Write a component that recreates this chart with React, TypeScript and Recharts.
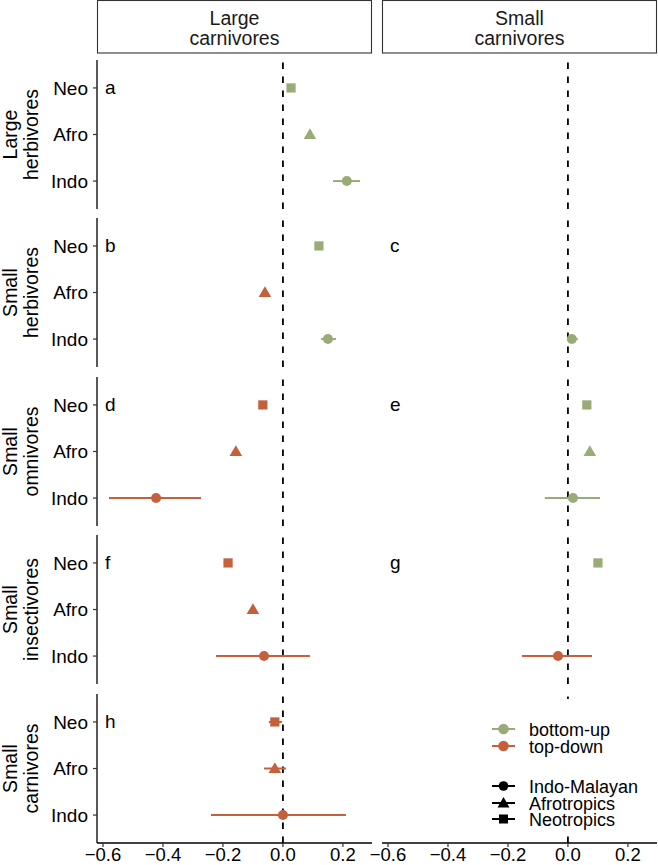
import React from 'react';
import { ScatterChart, Scatter, XAxis, YAxis, ErrorBar, ReferenceLine } from 'recharts';

type Est = { region: string; effect: string; est: number; lo: number; hi: number };

// ---------- data ----------
const regions = ['Indo', 'Afro', 'Neo'];
const effects = ['bottom-up', 'top-down'];
const regionLegend = ['Indo-Malayan', 'Afrotropics', 'Neotropics'];
const preyGuilds = ['Large herbivores', 'Small herbivores', 'Small omnivores', 'Small insectivores', 'Small carnivores'];
const predatorGuilds = ['Large carnivores', 'Small carnivores'];
const xTicks = [-0.6, -0.4, -0.2, 0, 0.2];

const panelA: Est[] = [
  { region: 'Neo', effect: 'bottom-up', est: 0.027, lo: 0.027, hi: 0.027 },
  { region: 'Afro', effect: 'bottom-up', est: 0.09, lo: 0.09, hi: 0.09 },
  { region: 'Indo', effect: 'bottom-up', est: 0.213, lo: 0.167, hi: 0.257 },
];
const panelB: Est[] = [
  { region: 'Neo', effect: 'bottom-up', est: 0.12, lo: 0.12, hi: 0.12 },
  { region: 'Afro', effect: 'top-down', est: -0.06, lo: -0.06, hi: -0.06 },
  { region: 'Indo', effect: 'bottom-up', est: 0.15, lo: 0.127, hi: 0.177 },
];
const panelC: Est[] = [
  { region: 'Indo', effect: 'bottom-up', est: 0.013, lo: -0.003, hi: 0.033 },
];
const panelD: Est[] = [
  { region: 'Neo', effect: 'top-down', est: -0.067, lo: -0.077, hi: -0.057 },
  { region: 'Afro', effect: 'top-down', est: -0.157, lo: -0.167, hi: -0.147 },
  { region: 'Indo', effect: 'top-down', est: -0.423, lo: -0.58, hi: -0.273 },
];
const panelE: Est[] = [
  { region: 'Neo', effect: 'bottom-up', est: 0.063, lo: 0.063, hi: 0.063 },
  { region: 'Afro', effect: 'bottom-up', est: 0.073, lo: 0.073, hi: 0.073 },
  { region: 'Indo', effect: 'bottom-up', est: 0.017, lo: -0.077, hi: 0.107 },
];
const panelF: Est[] = [
  { region: 'Neo', effect: 'top-down', est: -0.183, lo: -0.197, hi: -0.17 },
  { region: 'Afro', effect: 'top-down', est: -0.1, lo: -0.11, hi: -0.09 },
  { region: 'Indo', effect: 'top-down', est: -0.063, lo: -0.223, hi: 0.09 },
];
const panelG: Est[] = [
  { region: 'Neo', effect: 'bottom-up', est: 0.1, lo: 0.1, hi: 0.1 },
  { region: 'Indo', effect: 'top-down', est: -0.033, lo: -0.153, hi: 0.08 },
];
const panelH: Est[] = [
  { region: 'Neo', effect: 'top-down', est: -0.027, lo: -0.047, hi: -0.003 },
  { region: 'Afro', effect: 'top-down', est: -0.027, lo: -0.063, hi: 0.01 },
  { region: 'Indo', effect: 'top-down', est: 0.0, lo: -0.24, hi: 0.21 },
];

const panels: Est[][][] = [
  [panelA, []],
  [panelB, panelC],
  [panelD, panelE],
  [panelF, panelG],
  [panelH, []],
];
const panelLetters = [
  ['a', ''],
  ['b', 'c'],
  ['d', 'e'],
  ['f', 'g'],
  ['h', ''],
];

// ---------- styles / layout ----------
const FONT = '"Liberation Sans", Arial, Helvetica, sans-serif';
const colors: Record<string, string> = { 'bottom-up': '#99AC77', 'top-down': '#C4603B' };
const xDomain: [number, number] = [-0.62, 0.297];
const yDomain: [number, number] = [-0.6, 2.6];
// plot areas: left col x 97..372, right col x 382..657
const cols = [
  { left: 0, width: 372, yAxisWidth: 97, marginLeft: 0, plotLeft: 97 },
  { left: 352, width: 305, yAxisWidth: 0, marginLeft: 30, plotLeft: 382 },
];
const rowTop = [60, 218, 377, 535, 694];
const rowH = 149;
const xAxisH = 22;

const fmt = (v: number) => (v < 0 ? '\u2212' + Math.abs(v).toFixed(1) : v.toFixed(1));

const Marker = (props: any) => {
  const { cx, cy, payload, fill } = props;
  if (cx == null || cy == null) return null;
  const r = payload.region;
  if (r === 'Indo') return <circle cx={cx} cy={cy} r={5} fill={fill} />;
  if (r === 'Afro')
    return <polygon points={`${cx},${cy - 6.3} ${cx - 6.3},${cy + 4.6} ${cx + 6.3},${cy + 4.6}`} fill={fill} />;
  return <rect x={cx - 4.6} y={cy - 4.6} width={9.2} height={9.2} fill={fill} />;
};

function Panel({ data, col, row }: { data: Est[]; col: number; row: number }) {
  const c = cols[col];
  const bottom = row === preyGuilds.length - 1;
  const h = rowH + (bottom ? xAxisH : 0);
  return (
    <div style={{ position: 'absolute', left: c.left, top: rowTop[row], width: c.width, height: h }}>
      <ScatterChart width={c.width} height={h} margin={{ top: 0, right: 0, bottom: 0, left: c.marginLeft }}>
        <XAxis
          type="number"
          dataKey="est"
          domain={xDomain}
          allowDataOverflow
          ticks={xTicks}
          tickFormatter={fmt}
          hide={!bottom}
          height={xAxisH}
          axisLine={{ stroke: '#000', strokeWidth: 1.3 }}
          tickLine={{ stroke: '#333', strokeWidth: 1.2 }}
          tickSize={4}
          tickMargin={1}
          tick={{ fill: '#000', fontSize: 18.5, fontFamily: FONT }}
          interval={0}
        />
        <YAxis
          type="number"
          dataKey="y"
          domain={yDomain}
          allowDataOverflow
          ticks={[0, 1, 2]}
          tickFormatter={(i: number) => regions[i]}
          hide={col !== 0}
          width={c.yAxisWidth || 1}
          axisLine={{ stroke: '#000', strokeWidth: 1.3 }}
          tickLine={{ stroke: '#333', strokeWidth: 1.2 }}
          tickSize={4}
          tickMargin={5}
          tick={{ fill: '#000', fontSize: 19, fontFamily: FONT }}
          interval={0}
        />
        <ReferenceLine x={0} stroke="#000" strokeWidth={1.8} strokeDasharray="6.5 7.5" ifOverflow="extendDomain" />
        {effects.map((e) => {
          const d = data
            .filter((p) => p.effect === e)
            .map((p) => ({ ...p, y: regions.indexOf(p.region), err: [p.est - p.lo, p.hi - p.est] }));
          return (
            <Scatter key={e} data={d} fill={colors[e]} shape={<Marker />} isAnimationActive={false}>
              <ErrorBar dataKey="err" direction="x" width={0} stroke={colors[e]} strokeWidth={2} />
            </Scatter>
          );
        })}
      </ScatterChart>
    </div>
  );
}

export default function App() {
  const legendKeyX0 = 492;
  const legendKeyX1 = 515;
  const legendKeyCx = 503.5;
  const legendTextX = 529;
  const effY = [729, 746];
  const regY = [786, 803, 819];
  return (
    <div style={{ position: 'absolute', left: 0, top: 0, width: 658, height: 865, overflow: 'hidden', background: '#fff', fontFamily: FONT }}>
      {/* strips + row labels */}
      <svg width={658} height={865} style={{ position: 'absolute', left: 0, top: 0 }}>
        {predatorGuilds.map((g, i) => {
          const c = cols[i];
          const x0 = c.plotLeft;
          const x1 = c.left + c.width;
          const words = g.split(' ');
          return (
            <g key={g}>
              <rect x={x0 + 0.5} y={0.5} width={x1 - x0 - 1} height={52.5} fill="#fff" stroke="#333" strokeWidth={1.1} />
              <text x={(x0 + x1) / 2} y={25} textAnchor="middle" fontSize={19.5} fill="#1a1a1a" fontFamily={FONT}>{words[0]}</text>
              <text x={(x0 + x1) / 2} y={45} textAnchor="middle" fontSize={19.5} fill="#1a1a1a" fontFamily={FONT}>{words[1]}</text>
            </g>
          );
        })}
        {preyGuilds.map((g, r) => {
          const cy = rowTop[r] + rowH / 2;
          const words = g.split(' ');
          return (
            <g key={g}>
              <text transform={`translate(17,${cy}) rotate(-90)`} textAnchor="middle" fontSize={19.5} fill="#000" fontFamily={FONT}>{words[0]}</text>
              <text transform={`translate(38,${cy}) rotate(-90)`} textAnchor="middle" fontSize={19.5} fill="#000" fontFamily={FONT}>{words[1]}</text>
            </g>
          );
        })}
      </svg>
      {panels.map((rowPanels, r) =>
        rowPanels.map((d, c) => <Panel key={`${r}-${c}`} data={d} col={c} row={r} />)
      )}
      {/* panel letters + legend */}
      <svg width={658} height={865} style={{ position: 'absolute', left: 0, top: 0, pointerEvents: 'none' }}>
        {panelLetters.map((lr, r) =>
          lr.map((l, c) =>
            l ? (
              <text key={`${r}-${c}`} x={cols[c].plotLeft + 8} y={rowTop[r] + 34} fontSize={19} fill="#000" fontFamily={FONT}>
                {l}
              </text>
            ) : null
          )
        )}
        <rect x={484} y={699} width={168} height={135} fill="#fff" />
        {effects.map((e, i) => (
          <g key={e}>
            <line x1={legendKeyX0} x2={legendKeyX1} y1={effY[i]} y2={effY[i]} stroke={colors[e]} strokeWidth={2} />
            <circle cx={legendKeyCx} cy={effY[i]} r={5.3} fill={colors[e]} />
            <text x={legendTextX} y={effY[i] + 6.5} fontSize={18} fill="#000" fontFamily={FONT}>{e}</text>
          </g>
        ))}
        {regionLegend.map((name, i) => {
          const y = regY[i];
          const cx = legendKeyCx;
          return (
            <g key={name}>
              <line x1={legendKeyX0} x2={legendKeyX1} y1={y} y2={y} stroke="#000" strokeWidth={2} />
              {i === 0 && <circle cx={cx} cy={y} r={4.8} fill="#000" />}
              {i === 1 && <polygon points={`${cx},${y - 6} ${cx - 6},${y + 4.5} ${cx + 6},${y + 4.5}`} fill="#000" />}
              {i === 2 && <rect x={cx - 4.5} y={y - 4.5} width={9} height={9} fill="#000" />}
              <text x={legendTextX} y={y + 6.5} fontSize={18} fill="#000" fontFamily={FONT}>{name}</text>
            </g>
          );
        })}
      </svg>
    </div>
  );
}
